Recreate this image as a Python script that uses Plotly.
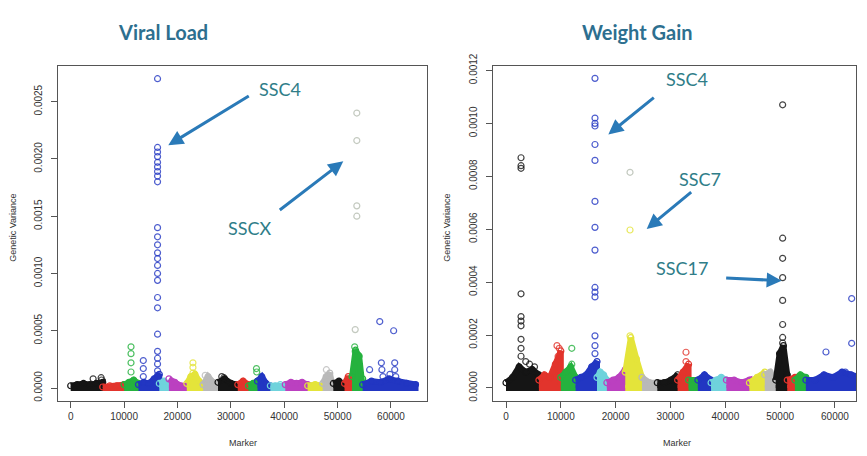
import numpy as np
import plotly.graph_objects as go

# ---------------- data ----------------
chrom_bounds = [0, 6000, 10000, 12700, 16600, 18400, 21750, 24800, 27600, 31300, 33300,
                35000, 37400, 40200, 44400, 47200, 49200, 51300, 52700, 54700, 64600]
palette = ["#151515", "#e2342c", "#25b23e", "#2236c2", "#6fd3dc", "#bb40c0", "#e4e43a", "#b9b9b9"]

x_ticks = [0, 10000, 20000, 30000, 40000, 50000, 60000]
vl_y_ticks = [0.0, 0.0005, 0.0010, 0.0015, 0.0020, 0.0025]
wg_y_ticks = [0.0, 0.0002, 0.0004, 0.0006, 0.0008, 0.0010, 0.0012]

# upper envelope of the dense near-zero markers, per chromosome (Viral Load)
vl_band = [
    [0.00002, 0.00003, 0.00004, 0.00003, 0.00004, 0.00005],
    [0.00001, 0.00002, 0.00002, 0.00003],
    [0.00003, 0.00005, 0.00007, 0.00004],
    [0.00003, 0.00005, 0.00004, 0.00008, 0.00012],
    [0.00004, 0.00006, 0.00003],
    [0.00008, 0.00005, 0.00002, 0.00002],
    [0.00004, 0.00010, 0.00012, 0.00006, 0.00003],
    [0.00003, 0.00010, 0.00005, 0.00002],
    [0.00005, 0.00008, 0.00004, 0.00003],
    [0.00003, 0.00006, 0.00003],
    [0.00002, 0.00004, 0.00006],
    [0.00006, 0.00010, 0.00004, 0.00002],
    [0.00002, 0.00002, 0.00003, 0.00002],
    [0.00003, 0.00005, 0.00004, 0.00005, 0.00003],
    [0.00002, 0.00003, 0.00002],
    [0.00004, 0.00010, 0.00013, 0.00004],
    [0.00004, 0.00006, 0.00003],
    [0.00004, 0.00010, 0.00004],
    [0.00010, 0.00033, 0.00028, 0.00008],
    [0.00003, 0.00006, 0.00005, 0.00008, 0.00006, 0.00004, 0.00003],
]

# upper envelope of the dense near-zero markers, per chromosome (Weight Gain)
wg_band = [
    [0.00002, 0.00004, 0.00008, 0.00006, 0.00007, 0.00005],
    [0.00003, 0.00005, 0.00004, 0.00009, 0.00014],
    [0.00004, 0.00006, 0.00008, 0.00004],
    [0.00003, 0.00004, 0.00005, 0.00008, 0.00010],
    [0.00004, 0.00006, 0.00005, 0.00003],
    [0.00002, 0.00003, 0.00004, 0.00007],
    [0.00006, 0.00019, 0.00011, 0.00004],
    [0.00004, 0.00002, 0.00002],
    [0.00002, 0.00002, 0.00003, 0.00005],
    [0.00003, 0.00006, 0.00009],
    [0.00003, 0.00003],
    [0.00003, 0.00005, 0.00003],
    [0.00002, 0.00003, 0.00004, 0.00003],
    [0.00003, 0.00003, 0.00002, 0.00003],
    [0.00002, 0.00004, 0.00006],
    [0.00005, 0.00006, 0.00003],
    [0.00003, 0.00013, 0.00016, 0.00005],
    [0.00003, 0.00004],
    [0.00003, 0.00005, 0.00004],
    [0.00003, 0.00003, 0.00005, 0.00004, 0.00006, 0.00005, 0.00004],
]

# individual markers standing above the band (Viral Load)
vl_out_x = [16270] * 25 + [11300] * 4 + [13600] * 3 + [4200, 5700, 5800] + [22900] * 3 + \
           [25200, 28300, 28700, 34800, 34850, 47900, 53200, 53300] + \
           [56000, 57900, 58200, 58300, 58500, 59800, 60500, 60700, 60700, 60900]
vl_out_y = [0.0027, 0.0021, 0.00206, 0.00202, 0.00197, 0.00193, 0.00189, 0.00185, 0.0018,
            0.0014, 0.00132, 0.00125, 0.00118, 0.00113, 0.00107, 0.0010, 0.00094, 0.00079,
            0.0007, 0.00047, 0.00032, 0.00026, 0.00021, 0.00015, 0.00011] + \
           [0.00036, 0.0003, 0.00022, 0.00014] + [0.00024, 0.00017, 0.0001] + \
           [0.00008, 0.00009, 0.00007] + [0.00022, 0.00018, 0.00013] + \
           [0.00011, 0.0001, 0.00009, 0.00017, 0.00014, 0.00016, 0.00036, 0.00032] + \
           [0.00016, 0.00058, 0.00022, 0.00016, 0.0001, 0.00012, 0.0005, 0.00022, 0.00016, 0.0001]
vl_pale_x = [53600, 53600, 53600, 53600, 53300]
vl_pale_y = [0.0024, 0.00216, 0.00159, 0.0015, 0.00051]

# individual markers standing above the band (Weight Gain)
wg_out_x = [2740] * 10 + [3600, 4300, 5200] + [9300, 9700, 9500] + [12000, 12000] + \
           [16230] * 15 + [22620, 22620] + [32830, 32830] + [50460] * 8 + \
           [58360, 63050, 63050, 61900]
wg_out_y = [0.00087, 0.00084, 0.00083, 0.000356, 0.00027, 0.000253, 0.000235, 0.000184,
            0.00015, 0.00012] + [0.0001, 0.00009, 0.00008] + [0.00016, 0.00015, 0.00012] + \
           [0.00015, 0.00009] + \
           [0.00117, 0.00102, 0.0010, 0.00099, 0.00092, 0.00086, 0.000705, 0.000607,
            0.000521, 0.00038, 0.000362, 0.000344, 0.000197, 0.00016, 0.00013] + \
           [0.000597, 0.000197] + [0.000135, 0.0001] + \
           [0.00107, 0.000566, 0.00049, 0.000417, 0.000331, 0.00024, 0.000191, 0.00017] + \
           [0.000136, 0.000338, 0.000169, 0.00006]
wg_pale_x = [22620]
wg_pale_y = [0.000815]

# ---------------- layout helpers ----------------
# the page body has an 8px margin, so the figure starts at (8, 8) in the window
OX, OY = 8, 8
W, H = 867 - OX, 456 - OY


def px(x):
    return (x - OX) / W


def py(y):
    return 1 - (y - OY) / H


fig = go.Figure()


def chrom_color(x):
    idx = int(np.clip(np.searchsorted(chrom_bounds, x, side="right") - 1, 0, len(chrom_bounds) - 2))
    return palette[idx % len(palette)]


def add_panel(band, out_x, out_y, pale_x, pale_y, xa, ya):
    for i, h in enumerate(band):
        xs = np.linspace(chrom_bounds[i], chrom_bounds[i + 1], len(h))
        col = palette[i % len(palette)]
        poly_x = list(xs) + list(xs[::-1])
        poly_y = list(h) + [0.0] * len(h)
        fig.add_trace(go.Scatter(x=poly_x, y=poly_y, mode="lines", fill="toself", fillcolor=col,
                                 line=dict(color=col, width=6), xaxis=xa, yaxis=ya,
                                 hoverinfo="skip", showlegend=False))
        fig.add_trace(go.Scatter(x=xs, y=h, mode="markers",
                                 marker=dict(symbol="circle-open", size=6, color=col,
                                             line=dict(width=1.2, color=col)),
                                 xaxis=xa, yaxis=ya, showlegend=False))
    cols = [chrom_color(x) for x in out_x]
    fig.add_trace(go.Scatter(x=out_x, y=out_y, mode="markers",
                             marker=dict(symbol="circle-open", size=6, color=cols,
                                         line=dict(width=1.2, color=cols), opacity=0.8),
                             xaxis=xa, yaxis=ya, showlegend=False))
    fig.add_trace(go.Scatter(x=pale_x, y=pale_y, mode="markers",
                             marker=dict(symbol="circle-open", size=6, color="#c4cac0",
                                         line=dict(width=1.2, color="#c4cac0")),
                             xaxis=xa, yaxis=ya, showlegend=False))


add_panel(vl_band, vl_out_x, vl_out_y, vl_pale_x, vl_pale_y, "x", "y")
add_panel(wg_band, wg_out_x, wg_out_y, wg_pale_x, wg_pale_y, "x2", "y2")

axis_common = dict(showline=True, mirror=True, linecolor="#555555", linewidth=1,
                   ticks="outside", ticklen=6, tickcolor="#555555", showgrid=False,
                   zeroline=False, tickfont=dict(family="Liberation Sans", size=10, color="#333333"))

ydom = [py(400), py(55)]
fig.update_layout(
    width=W, height=H, margin=dict(l=0, r=0, t=0, b=0),
    paper_bgcolor="white", plot_bgcolor="white",
    xaxis=dict(domain=[px(58), px(427)], range=[-2380, 66750], tickvals=x_ticks,
               ticktext=[str(v) for v in x_ticks], **axis_common),
    yaxis=dict(domain=ydom, range=[-0.00011, 0.002814], tickvals=vl_y_ticks,
               tickformat=".4f", tickangle=-90, ticklabelstandoff=5, **axis_common),
    xaxis2=dict(domain=[px(493), px(856)], range=[-2372, 63840], tickvals=x_ticks,
                ticktext=[str(v) for v in x_ticks], anchor="y2", **axis_common),
    yaxis2=dict(domain=ydom, range=[-0.0000477, 0.001218], tickvals=wg_y_ticks,
                tickformat=".4f", tickangle=-90, anchor="x2", ticklabelstandoff=5, **axis_common),
)

title_font = dict(family="Lato", size=20, color="#2d6f8f")
lab_font = dict(family="Lato", size=18, color="#2f7d88")
ax_font = dict(family="Liberation Sans", size=9, color="#333333")
arrow = dict(showarrow=True, arrowhead=2, arrowsize=1, arrowwidth=3, arrowcolor="#2a7ab8",
             text="", standoff=0, startstandoff=0)
center = dict(xanchor="center", yanchor="middle", showarrow=False, xref="paper", yref="paper")

annotations = [
    dict(text="<b>Viral Load</b>", x=px(163), y=py(20), font=title_font, **center),
    dict(text="<b>Weight Gain</b>", x=px(637), y=py(20), font=title_font, **center),
    dict(text="Genetic Variance", x=px(13), y=py(222), textangle=-90, font=ax_font, **center),
    dict(text="Genetic Variance", x=px(447), y=py(222), textangle=-90, font=ax_font, **center),
    dict(text="Marker", x=px(243), y=py(444), font=ax_font, **center),
    dict(text="Marker", x=px(677), y=py(444), font=ax_font, **center),
    # Viral Load labels
    dict(text="SSC4", x=39210, y=0.002608, xref="x", yref="y", showarrow=False,
         xanchor="center", yanchor="middle", font=lab_font),
    dict(text="SSCX", x=33590, y=0.0014, xref="x", yref="y", showarrow=False,
         xanchor="center", yanchor="middle", font=lab_font),
    dict(x=18280, y=0.00212, xref="x", yref="y", ax=82, ay=-50, **arrow),
    dict(x=51070, y=0.00198, xref="x", yref="y", ax=-65, ay=50, **arrow),
    # Weight Gain labels
    dict(text="SSC4", x=32960, y=0.001166, xref="x2", yref="y2", showarrow=False,
         xanchor="center", yanchor="middle", font=lab_font),
    dict(text="SSC7", x=35380, y=0.00079, xref="x2", yref="y2", showarrow=False,
         xanchor="center", yanchor="middle", font=lab_font),
    dict(text="SSC17", x=32040, y=0.000454, xref="x2", yref="y2", showarrow=False,
         xanchor="center", yanchor="middle", font=lab_font),
    dict(x=18660, y=0.000958, xref="x2", yref="y2", ax=47, ay=-38, **arrow),
    dict(x=25660, y=0.000601, xref="x2", yref="y2", ax=46, ay=-38, **arrow),
    dict(x=50280, y=0.000405, xref="x2", yref="y2", ax=-57, ay=-3, **arrow),
]
fig.update_layout(annotations=annotations)

fig.write_html("out.html")
